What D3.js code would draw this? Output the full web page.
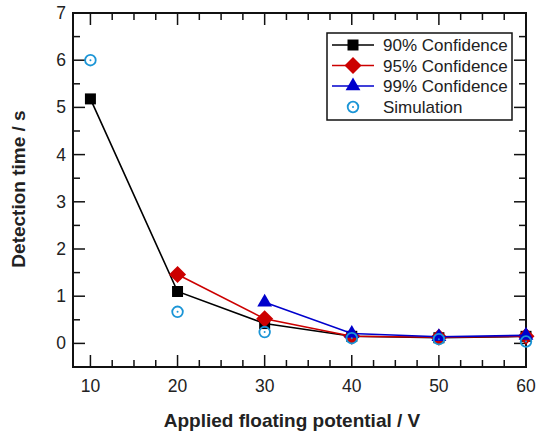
<!DOCTYPE html>
<html>
<head>
<meta charset="utf-8">
<script src="https://cdn.jsdelivr.net/npm/d3@7"></script>
<style>
  body { margin: 0; background: #fff; }
  text { font-family: "Liberation Sans", Arial, sans-serif; fill: #222; }
</style>
</head>
<body>
<div id="plot"></div>
<script>
// Data
var potentials = [10, 20, 30, 40, 50, 60];
var conf90 = [5.18, 1.10, 0.42, 0.15, 0.12, 0.15];
var conf95 = [1.46, 0.52, 0.15, 0.13, 0.15];
var conf95x = [20, 30, 40, 50, 60];
var conf99 = [0.87, 0.21, 0.14, 0.17];
var conf99x = [30, 40, 50, 60];
var simulation = [6.0, 0.67, 0.24, 0.11, 0.09, 0.04];
var xTicks = [10, 20, 30, 40, 50, 60];
var yTicks = [0, 1, 2, 3, 4, 5, 6, 7];

var width = 537,
    height = 436,
    plotLeft = 73, plotRight = 526, plotTop = 13, plotBottom = 367;

var svg = d3.select('#plot')
    .append('svg')
    .attr('width', width)
    .attr('height', height);

var x = d3.scaleLinear().domain([8, 60]).range([plotLeft, plotRight]);
var y = d3.scaleLinear().domain([-0.5, 7]).range([plotBottom, plotTop]);

// Tick marks, all pointing into the plot
var g = svg.append('g').attr('stroke', '#111').attr('stroke-width', 1.5);
var xMinor = d3.range(10, 60.01, 2.5);
var yMinor = d3.range(-0.5, 7.01, 0.5);

xMinor.forEach(function(v) {
    var len = v % 10 === 0 ? 12 : 7;
    g.append('line').attr('x1', x(v)).attr('x2', x(v)).attr('y1', plotBottom).attr('y2', plotBottom - len);
    g.append('line').attr('x1', x(v)).attr('x2', x(v)).attr('y1', plotTop).attr('y2', plotTop + len);
});
yMinor.forEach(function(v) {
    var len = Math.abs(v % 1) < 1e-9 ? 12 : 7;
    g.append('line').attr('y1', y(v)).attr('y2', y(v)).attr('x1', plotLeft).attr('x2', plotLeft + len);
    g.append('line').attr('y1', y(v)).attr('y2', y(v)).attr('x1', plotRight).attr('x2', plotRight - len);
});

svg.append('rect')
    .attr('x', plotLeft).attr('y', plotTop)
    .attr('width', plotRight - plotLeft).attr('height', plotBottom - plotTop)
    .attr('fill', 'none').attr('stroke', '#111').attr('stroke-width', 2);

// Tick labels
svg.append('g').selectAll('text')
    .data(xTicks).enter().append('text')
    .attr('x', function(d) { return x(d); })
    .attr('y', 392)
    .attr('text-anchor', 'middle')
    .attr('font-size', 17.5)
    .text(function(d) { return d; });

svg.append('g').selectAll('text')
    .data(yTicks).enter().append('text')
    .attr('x', 66)
    .attr('y', function(d) { return y(d) + 6; })
    .attr('text-anchor', 'end')
    .attr('font-size', 17.5)
    .text(function(d) { return d; });

// Axis titles
svg.append('text')
    .attr('x', 292).attr('y', 427)
    .attr('text-anchor', 'middle')
    .attr('font-size', 19).attr('font-weight', 'bold')
    .text('Applied floating potential / V');

svg.append('text')
    .attr('transform', 'translate(25,189) rotate(-90)')
    .attr('text-anchor', 'middle')
    .attr('font-size', 19).attr('font-weight', 'bold')
    .text('Detection time / s');

// Series
var series = [
    { name: '90% Confidence', xs: potentials, ys: conf90, color: '#000000', symbol: d3.symbolSquare, size: 121 },
    { name: '95% Confidence', xs: conf95x, ys: conf95, color: '#cc0000', symbol: d3.symbolDiamond, size: 84 },
    { name: '99% Confidence', xs: conf99x, ys: conf99, color: '#0000cc', symbol: d3.symbolTriangle, size: 95 }
];

var line = d3.line()
    .x(function(d) { return x(d[0]); })
    .y(function(d) { return y(d[1]); });

function drawMarker(sel, s, cx, cy) {
    sel.append('path')
        .attr('d', d3.symbol().type(s.symbol).size(s.size)())
        .attr('transform', 'translate(' + cx + ',' + cy + ')' + (s.symbol === d3.symbolDiamond ? ' scale(1.73,1)' : ''))
        .attr('fill', s.color);
}

series.forEach(function(s) {
    var pts = s.xs.map(function(v, i) { return [v, s.ys[i]]; });
    var sg = svg.append('g');
    sg.append('path')
        .attr('d', line(pts))
        .attr('fill', 'none')
        .attr('stroke', s.color)
        .attr('stroke-width', 1.6);
    pts.forEach(function(p) { drawMarker(sg, s, x(p[0]), y(p[1])); });
});

function drawSim(sel, cx, cy) {
    sel.append('circle').attr('cx', cx).attr('cy', cy).attr('r', 5.3)
        .attr('fill', 'none').attr('stroke', '#1b95d6').attr('stroke-width', 1.8);
    sel.append('circle').attr('cx', cx).attr('cy', cy).attr('r', 1)
        .attr('fill', '#1b95d6');
}

var simG = svg.append('g');
simulation.forEach(function(v, i) { drawSim(simG, x(potentials[i]), y(v)); });

// Legend
var legend = svg.append('g');
legend.append('rect')
    .attr('x', 327).attr('y', 33).attr('width', 185).attr('height', 87)
    .attr('fill', '#fff').attr('stroke', '#111').attr('stroke-width', 1.5);

var rowY = [45, 65.5, 86, 107];
series.forEach(function(s, i) {
    legend.append('line')
        .attr('x1', 332).attr('x2', 374)
        .attr('y1', rowY[i]).attr('y2', rowY[i])
        .attr('stroke', s.color).attr('stroke-width', 1.6);
    drawMarker(legend, s, 353, rowY[i]);
    legend.append('text')
        .attr('x', 383).attr('y', rowY[i] + 6)
        .attr('font-size', 17)
        .text(s.name);
});
drawSim(legend, 353, rowY[3]);
legend.append('text')
    .attr('x', 383).attr('y', rowY[3] + 6)
    .attr('font-size', 17)
    .text('Simulation');
</script>
</body>
</html>
